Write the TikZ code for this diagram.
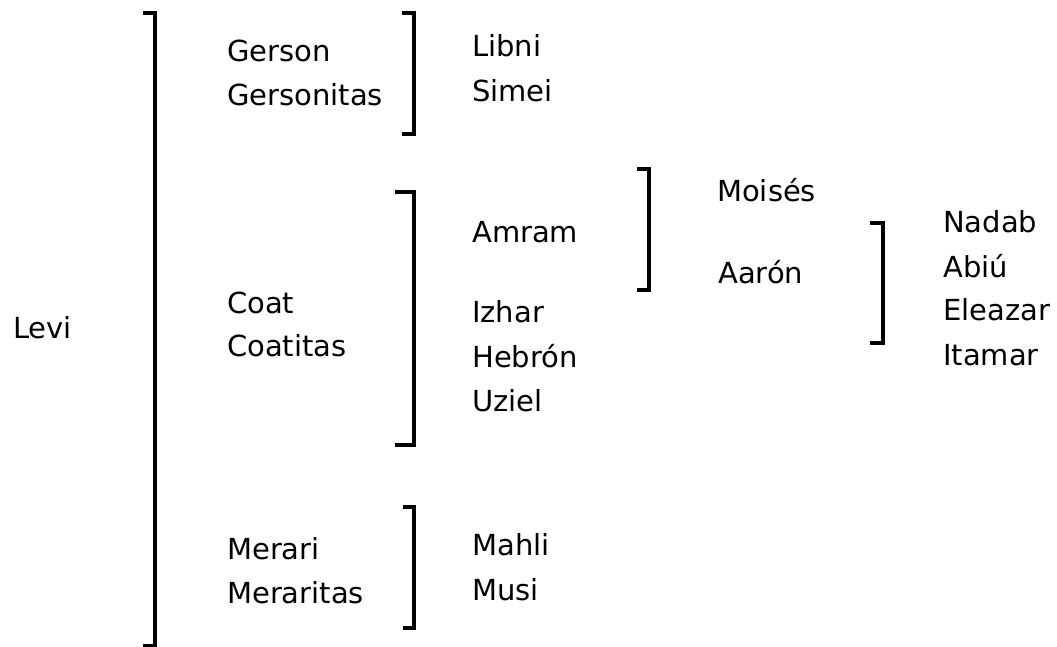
\documentclass[tikz,border=0pt]{standalone}
\usepackage{fontspec}
\setmainfont{DejaVu Sans}
\begin{document}
\begin{tikzpicture}[x=1pt,y=-1pt,
	person/.style={anchor=base west,inner sep=0pt,font=\fontsize{29}{35}\selectfont},
	bracket/.style={line width=3.2pt,line join=miter}]
			\useasboundingbox (0,0) rectangle (1057,647);
			
			\draw [bracket] (143,13) -- (155,13) -- (155,646) -- (143,646);
			\draw [bracket] (402,13) -- (414,13) -- (414,134) -- (402,134);
			\draw [bracket] (395,192) -- (414,192) -- (414,445) -- (395,445);
			\draw [bracket] (403,507) -- (414,507) -- (414,628) -- (403,628);
			\draw [bracket] (637,169) -- (649,169) -- (649,290) -- (637,290);
			\draw [bracket] (870,223) -- (883,223) -- (883,343) -- (870,343);
			
			\node [person] (levi) at (13,338) {Levi};
			
			\node [person] (gerson) at (227,62) {Gerson};
			\node [person] (gersonitas) at (227,106) {Gersonitas};
			\node [person] (coat) at (227,313) {Coat};
			\node [person] (coatitas) at (227,356) {Coatitas};
			\node [person] (merari) at (227,559) {Merari};
			\node [person] (meraritas) at (227,603) {Meraritas};
			
			\node [person] (libni) at (472,57) {Libni};
			\node [person] (simei) at (472,102) {Simei};
			\node [person] (amram) at (472,242) {Amram};
			\node [person] (izhar) at (472,322) {Izhar};
			\node [person] (hebron) at (472,367) {Hebrón};
			\node [person] (uziel) at (472,411) {Uziel};
			\node [person] (mahli) at (472,555) {Mahli};
			\node [person] (musi) at (472,600) {Musi};
			
			\node [person] (moises) at (717,202) {Moisés};
			\node [person] (aaron) at (718,283) {Aarón};
			
			\node [person] (nadab) at (943,233) {Nadab};
			\node [person] (abiu) at (943,277) {Abiú};
			\node [person] (eleazar) at (943,320) {Eleazar};
			\node [person] (itamar) at (943,365) {Itamar};
		\end{tikzpicture}
\end{document}
